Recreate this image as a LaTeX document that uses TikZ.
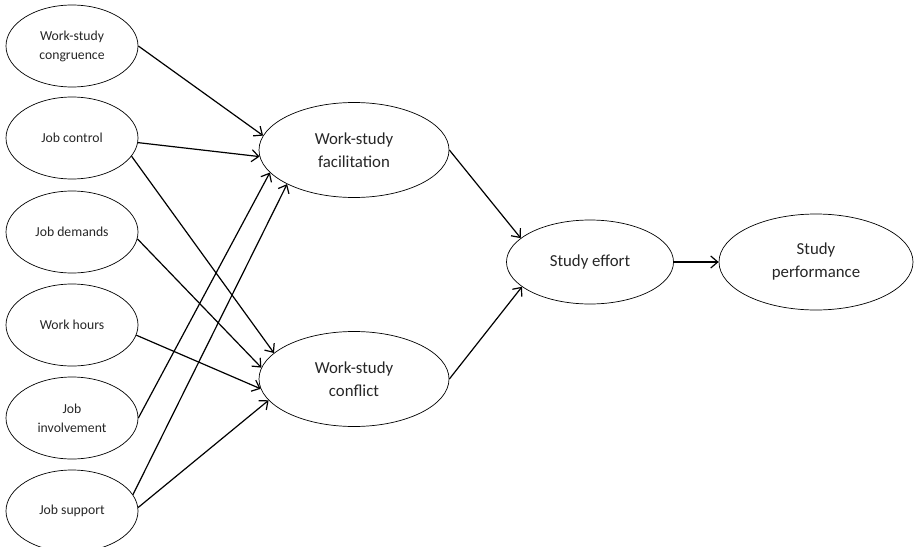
\documentclass[tikz,border=0pt]{standalone}
\usepackage{fontspec}
\setmainfont{Carlito}
\usetikzlibrary{arrows.meta,positioning,shapes.geometric}
\tikzset{
  pred/.style={ellipse,draw=black,line width=.7pt,minimum width=132pt,minimum height=82pt,inner sep=0pt,align=center,text=black!85,font=\fontsize{13.7}{19}\selectfont},
  medi/.style={ellipse,draw=black,line width=.7pt,minimum width=190pt,minimum height=95pt,inner sep=0pt,align=center,text=black!85,font=\fontsize{16.8}{23}\selectfont},
  effort/.style={ellipse,draw=black,line width=.7pt,minimum width=167pt,minimum height=84pt,inner sep=0pt,align=center,text=black!85,font=\fontsize{16.8}{23}\selectfont},
  outc/.style={ellipse,draw=black,line width=.7pt,minimum width=194pt,minimum height=96pt,inner sep=0pt,align=center,text=black!85,font=\fontsize{16.8}{23}\selectfont},
  eff/.style={line width=1.2pt,-{Straight Barb[length=7pt,width=12pt]}}
}
\begin{document}
\begin{tikzpicture}[x=1pt,y=-1pt]
  \useasboundingbox (0,0) rectangle (915,546);
  % predictors
  \node[pred] (cong) at (72,46) {Work-study\\congruence};
  \node[pred] (ctrl) at (72,138) {Job control};
  \node[pred] (dem) at (72,232) {Job demands};
  \node[pred] (hrs) at (72,325) {Work hours};
  \node[pred] (inv) at (72,418) {Job\\involvement};
  \node[pred] (sup) at (72,511) {Job support};

  % mediators
  \node[medi] (fac) at (354,150) {Work-study\\facilitation};
  \node[medi] (con) at (354,379) {Work-study\\conflict};

  % outcomes
  \node[effort] (se) at (590,262) {Study effort};
  \node[outc] (sp) at (816,262) {Study\\performance};

  \draw[eff] (cong.east) -- (fac.171);
  \draw[eff] (ctrl.-4) -- (fac.184);
  \draw[eff] (ctrl.-17) -- (con.162);
  \draw[eff] (dem.-6) -- (con.173);
  \draw[eff] (hrs.-9) -- (con.186);
  \draw[eff] (inv.east) -- (fac.195);
  \draw[eff] (sup.15) -- (fac.207);
  \draw[eff] (sup.3) -- (con.194);

  \draw[eff] (fac.east) -- (se.161);
  \draw[eff] (con.east) -- (se.200);
  \draw[eff] (se.east) -- (sp.west);
\end{tikzpicture}
\end{document}
